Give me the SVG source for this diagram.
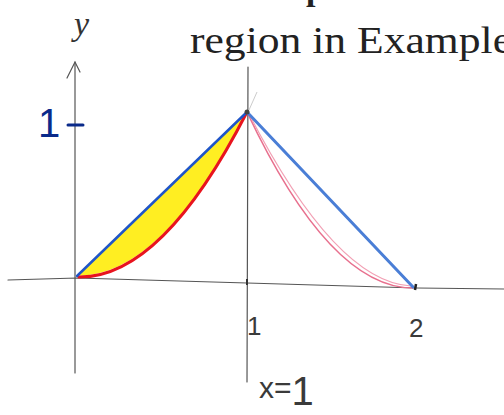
<svg xmlns="http://www.w3.org/2000/svg" width="504" height="415" viewBox="0 0 504 415">
<style>
.axis{stroke:#555;stroke-width:1.2;fill:none;stroke-linecap:round}
.pencil{font-family:"Liberation Sans",Arial,sans-serif;fill:#3a3a3a}
</style>
<rect width="504" height="415" fill="#fff"/>
<g id="title">
<text x="306" y="0" font-family="Liberation Serif,serif" font-weight="bold" font-size="34" fill="#222">p</text>
<text x="190" y="53" font-family="Liberation Serif,serif" font-size="37" fill="#222" textLength="322" lengthAdjust="spacingAndGlyphs">region in Example</text>
</g>
<g id="axes">
<path class="axis" d="M8,280 L77,278 L247,283 L417,288 L504,289"/>
<path class="axis" d="M75,62 L75,373"/>
<path class="axis" d="M67,78 L75,62 L80,72"/>
<path class="axis" d="M248,67 L247,382"/>
<path d="M249,110 L257,92" stroke="#ccc" stroke-width="1"/>
</g>
<g id="region">
<path d="M77,276 L247,112 Q162,276 77,276 Z" fill="#ffee22"/>
<path d="M79,277 Q162,278 247,112" fill="none" stroke="#e8141e" stroke-width="3" stroke-linecap="round"/>
<path d="M77,276 L247,112" fill="none" stroke="#1f55c8" stroke-width="2.5" stroke-linecap="round"/>
</g>
<g id="right">
<path d="M247,112 Q330,288 413,288" fill="none" stroke="#e8708e" stroke-width="1.6"/>
<path d="M249,114 Q336,282 411,286" fill="none" stroke="#f2a0b4" stroke-width="1.2"/>
<path d="M247,112 L413,287" fill="none" stroke="#4a7ed6" stroke-width="3" stroke-linecap="round"/>
</g>
<g id="marks">
<circle cx="247" cy="112" r="2.5" fill="#444"/>
<path d="M247,279 L247,285" stroke="#333" stroke-width="2"/>
<path d="M416,284 L415,290" stroke="#222" stroke-width="2.5"/>
<path d="M68,125 L83,125" stroke="#0a2a8a" stroke-width="3" stroke-linecap="round"/>
</g>
<g id="labels">
<text x="74" y="35" font-family="Liberation Serif,serif" font-style="italic" font-size="34" fill="#333">y</text>
<text x="38" y="137" font-family="Liberation Sans,Arial,sans-serif" font-size="40" fill="#0a2a8a">1</text>
<text class="pencil" x="247" y="335" font-size="26">1</text>
<text class="pencil" x="409" y="337" font-size="26">2</text>
<text class="pencil" x="259" y="398" font-size="30">x=<tspan font-size="40" dy="7">1</tspan></text>
</g>
</svg>
